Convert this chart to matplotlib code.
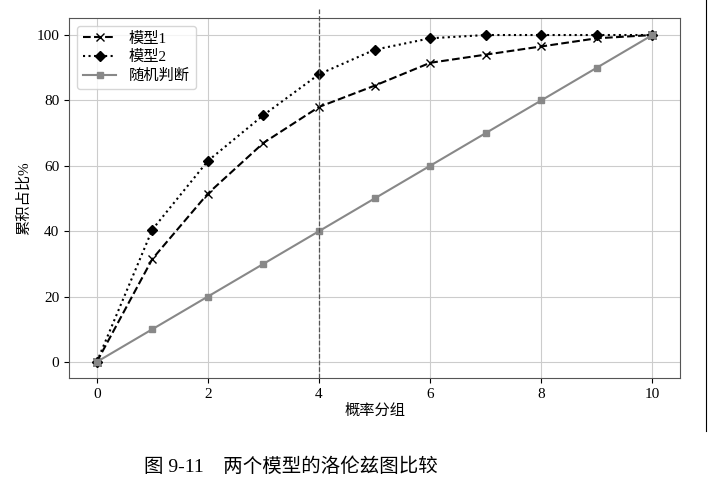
import matplotlib
matplotlib.use("Agg")
import matplotlib.pyplot as plt

plt.rcParams['font.family'] = ['Liberation Serif', 'Noto Sans CJK SC']

groups = list(range(11))
model1 = [0, 31.5, 51.5, 67, 78, 84.5, 91.5, 94, 96.5, 99, 100]
model2 = [0, 40.5, 61.5, 75.5, 88, 95.5, 99, 100, 100, 100, 100]
random_pick = [0, 10, 20, 30, 40, 50, 60, 70, 80, 90, 100]

fig = plt.figure(figsize=(7.19, 4.87), dpi=100)
ax = fig.add_axes([0.096, 0.224, 0.85, 0.739])

ax.plot(groups, model1, 'k--', marker='x', markersize=6, label='模型1')
ax.plot(groups, model2, 'k:', marker='D', markersize=5, label='模型2')
ax.plot(groups, random_pick, color='#888888', marker='s', markersize=5, label='随机判断')
ax.axvline(4, color='#555555', linestyle='--', linewidth=0.9, clip_on=False, ymax=1.03)

ax.set_xlim(-0.5, 10.5)
ax.set_ylim(-4.9, 105.2)
ax.set_xticks([0, 2, 4, 6, 8, 10])
ax.set_yticks([0, 20, 40, 60, 80, 100])
ax.grid(True, color='#cccccc')
ax.set_xlabel('概率分组', fontsize=11, labelpad=2)
ax.set_ylabel('累积占比%', fontsize=11)
ax.tick_params(labelsize=11)
for s in ax.spines.values():
    s.set_color('#555555')
ax.legend(loc='upper left', fontsize=11, handlelength=2.2, labelspacing=0.3)

fig.text(0.405, 0.03, '图 9-11    两个模型的洛伦兹图比较', ha='center', fontsize=14)
fig.add_artist(plt.Line2D([0.982, 0.982], [0.115, 1.0], color='black', linewidth=0.8))

fig.savefig('out.png', dpi=100)
